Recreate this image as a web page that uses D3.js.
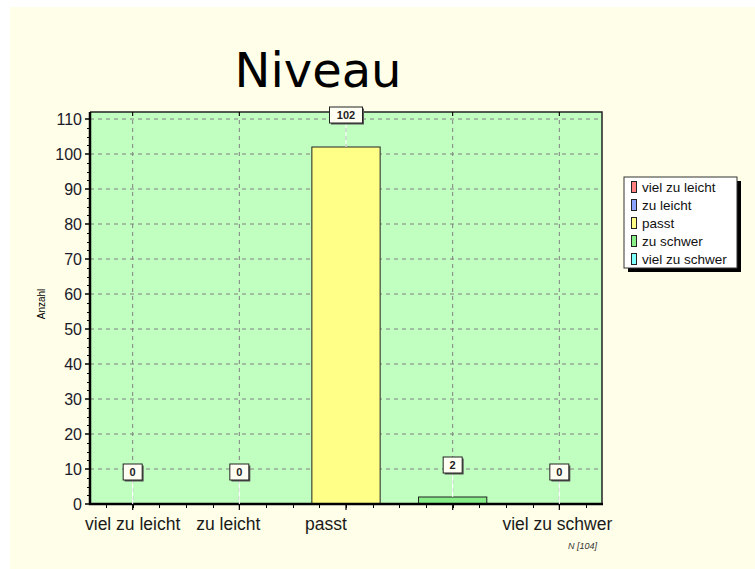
<!DOCTYPE html>
<html lang="de">
<head>
  <meta charset="UTF-8">
  <title>Niveau</title>
  <script src="https://d3js.org/d3.v7.min.js"></script>
  <style>
    body { margin: 0; padding: 0; background: #ffffff; }
    svg text { font-family: "Liberation Sans", Arial, sans-serif; }
    .title { font-family: "DejaVu Sans", Verdana, sans-serif !important; font-size: 48px; fill: #000; }
    .ytick { font-size: 16px; fill: #1a1a2a; }
    .xlabel { font-size: 17.5px; fill: #1a1a1a; }
    .val { font-size: 11px; fill: #222; font-weight: bold; }
    .legend-text { font-size: 13.5px; fill: #111; }
  </style>
</head>
<body>
  <div id="chart"></div>
  <script>
    const categories = ["viel zu leicht", "zu leicht", "passt", "zu schwer", "viel zu schwer"];
    const values = [0, 0, 102, 2, 0];
    const axisLabels = ["viel zu leicht", "zu leicht", "passt", "", "viel zu schwer"];
    const axisLabelShift = [0, -11, -20, 0, -2];
    const colors = ["#ff8080", "#8ca4ff", "#ffff88", "#88ee88", "#80ffff"];
    const yTicks = d3.range(0, 111, 10);
    const total = 104;

    const width = 755, height = 569;
    const plot = { left: 90, right: 602, top: 112, bottom: 504 };

    const svg = d3.select("#chart")
      .append("svg")
      .attr("width", width)
      .attr("height", height);

    // cream background
    svg.append("rect")
      .attr("x", 10).attr("y", 7)
      .attr("width", width - 10).attr("height", height - 7)
      .attr("fill", "#fffee8");

    svg.append("text")
      .attr("class", "title")
      .attr("x", 318)
      .attr("y", 87)
      .attr("text-anchor", "middle")
      .text("Niveau");

    const x = d3.scalePoint()
      .domain(categories)
      .range([plot.left, plot.right])
      .padding(0.4);

    const y = d3.scaleLinear()
      .domain([0, 112])
      .range([plot.bottom, plot.top]);

    const step = x.step();
    const barWidth = step * 0.64;

    // plot area
    svg.append("rect")
      .attr("x", plot.left).attr("y", plot.top)
      .attr("width", plot.right - plot.left)
      .attr("height", plot.bottom - plot.top)
      .attr("fill", "#c0ffc0");

    // grid
    svg.append("g")
      .selectAll("line")
      .data(yTicks.filter(d => d > 0))
      .join("line")
      .attr("x1", plot.left).attr("x2", plot.right)
      .attr("y1", d => y(d)).attr("y2", d => y(d))
      .attr("stroke", "#808080")
      .attr("stroke-dasharray", "4,4");

    svg.append("g")
      .selectAll("line")
      .data(categories)
      .join("line")
      .attr("x1", d => x(d)).attr("x2", d => x(d))
      .attr("y1", plot.top).attr("y2", plot.bottom)
      .attr("stroke", "#808080")
      .attr("stroke-dasharray", "4,4");

    // bars
    svg.append("g")
      .selectAll("rect")
      .data(categories.map((c, i) => ({ c, v: values[i], color: colors[i] })).filter(d => d.v > 0))
      .join("rect")
      .attr("x", d => x(d.c) - barWidth / 2)
      .attr("y", d => y(d.v))
      .attr("width", barWidth)
      .attr("height", d => y(0) - y(d.v))
      .attr("fill", d => d.color)
      .attr("stroke", "#222")
      .attr("stroke-width", 1);

    // frame
    svg.append("path")
      .attr("d", `M${plot.left},${plot.top}H${plot.right}V${plot.bottom}`)
      .attr("fill", "none")
      .attr("stroke", "#222")
      .attr("stroke-width", 1.5);
    svg.append("path")
      .attr("d", `M${plot.left},${plot.top}V${plot.bottom}H${plot.right + 1}`)
      .attr("fill", "none")
      .attr("stroke", "#000")
      .attr("stroke-width", 2.5);

    // y axis ticks
    const yMinor = d3.range(0, 112, 2.5).filter(d => d % 10 !== 0);
    svg.append("g")
      .selectAll("line")
      .data(yMinor)
      .join("line")
      .attr("x1", plot.left - 3).attr("x2", plot.left)
      .attr("y1", d => Math.round(y(d)) + 0.5).attr("y2", d => Math.round(y(d)) + 0.5)
      .attr("stroke", "#000");
    svg.append("g")
      .selectAll("line")
      .data(yTicks)
      .join("line")
      .attr("x1", plot.left - 5).attr("x2", plot.left)
      .attr("y1", d => y(d)).attr("y2", d => y(d))
      .attr("stroke", "#000")
      .attr("stroke-width", 1.5);
    svg.append("g")
      .selectAll("text")
      .data(yTicks)
      .join("text")
      .attr("class", "ytick")
      .attr("x", plot.left - 8)
      .attr("y", d => y(d))
      .attr("dy", "0.35em")
      .attr("text-anchor", "end")
      .text(d => d);

    svg.append("text")
      .attr("transform", `translate(45,304) rotate(-90)`)
      .attr("text-anchor", "middle")
      .style("font-size", "10px")
      .text("Anzahl");

    // x axis ticks
    const x0 = x(categories[0]);
    const xMinor = d3.range(-1, 4 * (categories.length - 1) + 2)
      .map(k => x0 + k * step / 4)
      .filter(v => v > plot.left + 2 && v < plot.right - 2);
    svg.append("g")
      .selectAll("line")
      .data(xMinor)
      .join("line")
      .attr("x1", d => Math.round(d) + 0.5).attr("x2", d => Math.round(d) + 0.5)
      .attr("y1", plot.bottom).attr("y2", plot.bottom + 4)
      .attr("stroke", "#000");
    svg.append("g")
      .selectAll("line")
      .data(categories)
      .join("line")
      .attr("x1", d => x(d)).attr("x2", d => x(d))
      .attr("y1", plot.bottom).attr("y2", plot.bottom + 6)
      .attr("stroke", "#000")
      .attr("stroke-width", 1.2);
    svg.append("g")
      .selectAll("line")
      .data(categories)
      .join("line")
      .attr("x1", d => x(d)).attr("x2", d => x(d))
      .attr("y1", plot.top).attr("y2", plot.top + 4)
      .attr("stroke", "#000");

    svg.append("g")
      .selectAll("text")
      .data(categories)
      .join("text")
      .attr("class", "xlabel")
      .attr("x", (d, i) => x(d) + axisLabelShift[i])
      .attr("y", 530)
      .attr("text-anchor", "middle")
      .text((d, i) => axisLabels[i]);

    // value labels
    const labels = svg.append("g")
      .selectAll("g")
      .data(categories.map((c, i) => ({ c, v: values[i] })))
      .join("g")
      .attr("transform", d => `translate(${x(d.c)},${y(d.v)})`);
    labels.append("line")
      .attr("x1", 0).attr("x2", 0)
      .attr("y1", -24).attr("y2", 0)
      .attr("stroke", "#ffffff")
      .attr("stroke-width", 1);
    const boxW = d => String(d.v).length * 7 + 12;
    labels.append("rect")
      .attr("x", d => -boxW(d) / 2 + 1.5)
      .attr("y", -40 + 1.5)
      .attr("width", boxW)
      .attr("height", 16)
      .attr("fill", "#555");
    labels.append("rect")
      .attr("x", d => -boxW(d) / 2)
      .attr("y", -40)
      .attr("width", boxW)
      .attr("height", 16)
      .attr("fill", "#fffff4")
      .attr("stroke", "#222")
      .attr("stroke-width", 1);
    labels.append("text")
      .attr("class", "val")
      .attr("x", 0)
      .attr("y", -32)
      .attr("dy", "0.36em")
      .attr("text-anchor", "middle")
      .text(d => d.v);

    // legend
    const lg = svg.append("g").attr("transform", "translate(624,177)");
    lg.append("rect")
      .attr("x", 4).attr("y", 4)
      .attr("width", 113).attr("height", 91)
      .attr("fill", "#000");
    lg.append("rect")
      .attr("x", 0).attr("y", 0)
      .attr("width", 113).attr("height", 91)
      .attr("fill", "#ffffff")
      .attr("stroke", "#333");
    const items = lg.selectAll("g.item")
      .data(categories)
      .join("g")
      .attr("class", "item")
      .attr("transform", (d, i) => `translate(0,${10 + i * 18})`);
    items.append("rect")
      .attr("x", 7.5).attr("y", -5.5)
      .attr("width", 5).attr("height", 11)
      .attr("fill", (d, i) => colors[i])
      .attr("stroke", "#222");
    items.append("text")
      .attr("class", "legend-text")
      .attr("x", 18)
      .attr("y", 0)
      .attr("dy", "0.35em")
      .text(d => d);

    svg.append("text")
      .attr("x", 597)
      .attr("y", 549)
      .attr("text-anchor", "end")
      .style("font-size", "9px")
      .style("font-style", "italic")
      .style("fill", "#333")
      .text(`N [${total}]`);
  </script>
</body>
</html>
